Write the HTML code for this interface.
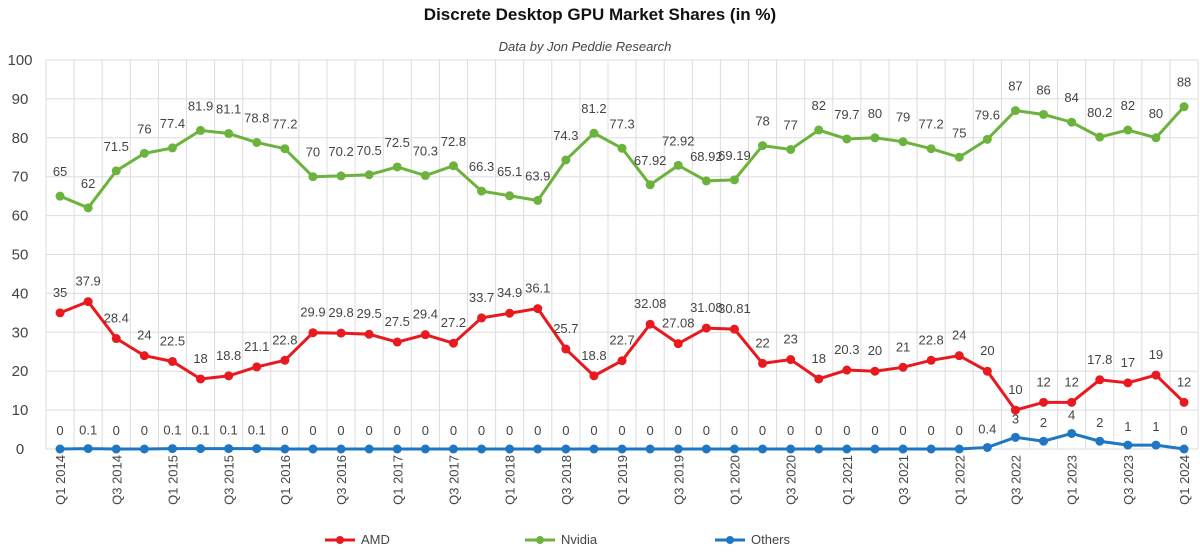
<!DOCTYPE html>
<html><head><meta charset="utf-8"><style>
body{margin:0;background:#fff;font-family:"Liberation Sans",sans-serif;}
svg text{font-family:"Liberation Sans",sans-serif;}
</style></head><body>
<svg id="c" width="1200" height="550">
<text x="600" y="20" text-anchor="middle" font-size="17" font-weight="bold" fill="#111">Discrete Desktop GPU Market Shares (in %)</text>
<text x="585" y="51" text-anchor="middle" font-size="13" font-style="italic" fill="#444">Data by Jon Peddie Research</text>
<g id="grid"></g><g id="marks"></g>
</svg>
<script>
const quarters=[];for(let y=2014;y<=2024;y++)for(let q=1;q<=4;q++)if(!(y===2024&&q>1))quarters.push('Q'+q+' '+y);
const nvidia=[65,62,71.5,76,77.4,81.9,81.1,78.8,77.2,70,70.2,70.5,72.5,70.3,72.8,66.3,65.1,63.9,74.3,81.2,77.3,67.92,72.92,68.92,69.19,78,77,82,79.7,80,79,77.2,75,79.6,87,86,84,80.2,82,80,88];
const amd=[35,37.9,28.4,24,22.5,18,18.8,21.1,22.8,29.9,29.8,29.5,27.5,29.4,27.2,33.7,34.9,36.1,25.7,18.8,22.7,32.08,27.08,31.08,30.81,22,23,18,20.3,20,21,22.8,24,20,10,12,12,17.8,17,19,12];
const others=[0,0.1,0,0,0.1,0.1,0.1,0.1,0,0,0,0,0,0,0,0,0,0,0,0,0,0,0,0,0,0,0,0,0,0,0,0,0,0.4,3,2,4,2,1,1,0];
const yTicks=[0,10,20,30,40,50,60,70,80,90,100];
const NS='http://www.w3.org/2000/svg';
const L=46,BW=28.1,Y0=449,Y100=60;
const x=i=>L+BW*(i+0.5);
const y=v=>Y0-(Y0-Y100)*v/100;
const grid=document.getElementById('grid'),marks=document.getElementById('marks');
function mk(tag,attrs,parent,txt){const e=document.createElementNS(NS,tag);for(const k in attrs)e.setAttribute(k,attrs[k]);if(txt!==undefined)e.textContent=txt;parent.appendChild(e);return e;}
const R=L+BW*quarters.length;
yTicks.forEach(t=>{
 const l=mk('line',{x1:L,x2:R,y1:y(t),y2:y(t),stroke:'#ddd','stroke-width':1},grid);
 
 
 const tx=mk('text',{x:20,y:y(t)+5,'text-anchor':'middle','font-size':15,fill:'#444'},grid,t);
 
 
});
for(let i=0;i<=quarters.length;i++){
 const l=mk('line',{x1:L+BW*i,x2:L+BW*i,y1:Y100,y2:Y0,stroke:'#ddd','stroke-width':1},grid);
 
 
}
quarters.forEach((q,i)=>{
 if(i%2)return;
 const t=mk('text',{x:0,y:0,'text-anchor':'end','font-size':13,fill:'#444',transform:`translate(${x(i)+5},455) rotate(-90)`},grid,q);
 
 
});
function series(vals,color,name,off){
 const p=mk('polyline',{points:vals.map((v,i)=>x(i)+','+y(v)).join(' '),fill:'none',stroke:color,'stroke-width':3},marks);
 
 
 vals.forEach((v,i)=>{
  const c=mk('circle',{cx:x(i),cy:y(v),r:4.5,fill:color},marks);
  
  
  const t=mk('text',{x:x(i),y:y(v)-off,'text-anchor':'middle','font-size':13,fill:'#444'},marks,v);
  
  
 });
}
series(others,'#1f77c4','others',14);
series(amd,'#e8191f','amd',16);
series(nvidia,'#6bb33c','nvidia',20);
[['AMD','#e8191f',325],['Nvidia','#6bb33c',525],['Others','#1f77c4',715]].forEach(([n,c,lx])=>{
 const g=mk('g',{},marks);
 
 
 mk('line',{x1:lx,x2:lx+30,y1:540,y2:540,stroke:c,'stroke-width':3},g);
 mk('circle',{cx:lx+15,cy:540,r:4,fill:c},g);
 mk('text',{x:lx+36,y:544,'font-size':13,fill:'#444'},g,n);
});
</script>
</body></html>
